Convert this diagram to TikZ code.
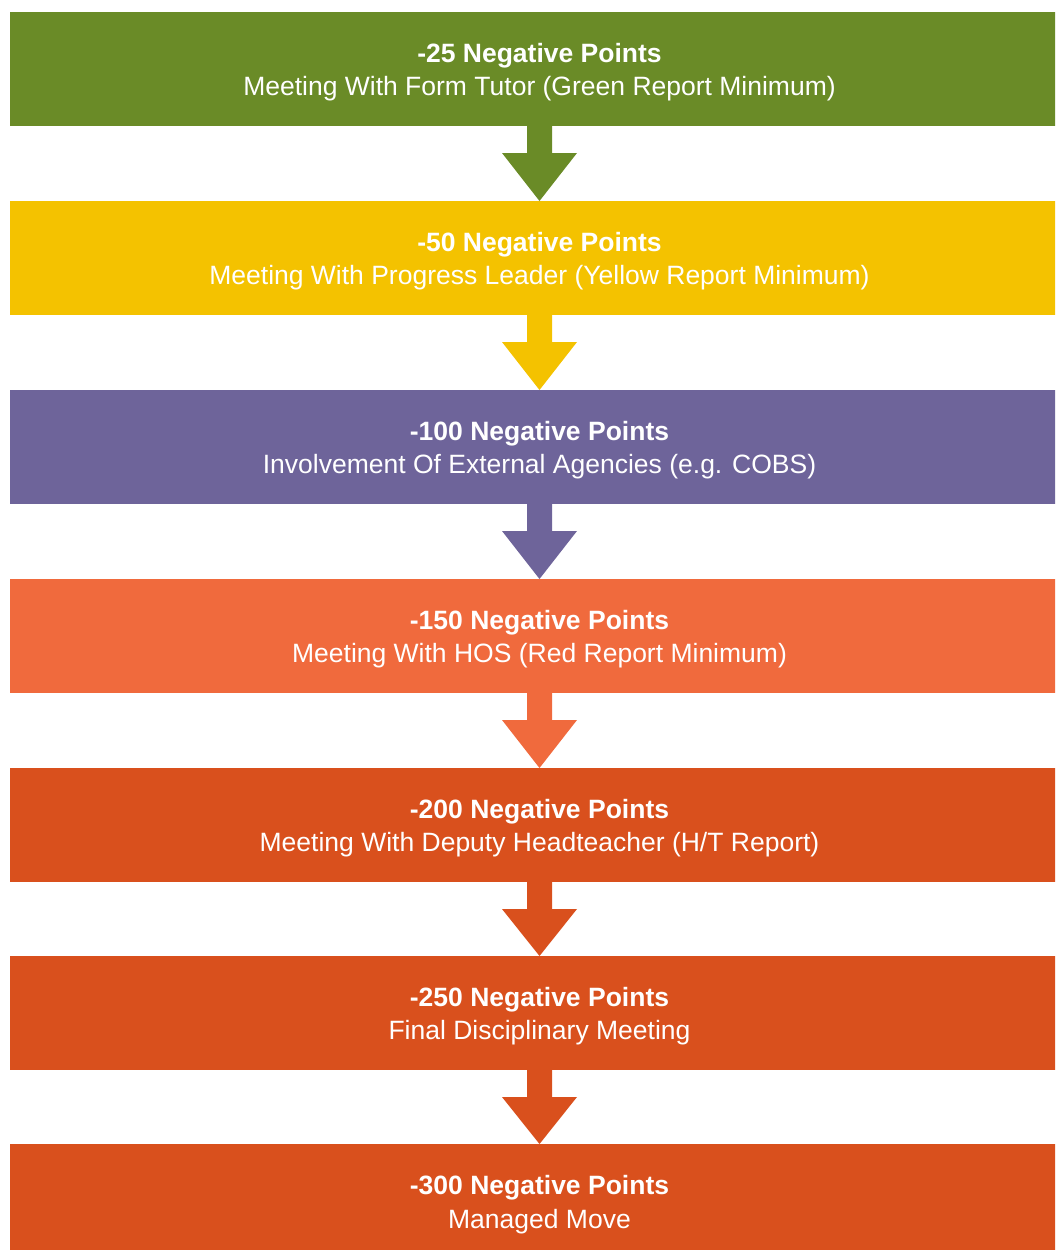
\documentclass[tikz,border=0pt]{standalone}
\usepackage{fontspec}
\setmainfont{Liberation Sans}
\usetikzlibrary{calc}
\definecolor{cgreen}{RGB}{106,139,39}
\definecolor{cyellow}{RGB}{244,194,0}
\definecolor{cpurple}{RGB}{110,100,154}
\definecolor{corange}{RGB}{240,106,61}
\definecolor{cdark}{RGB}{217,80,29}
\newcommand\steparrow[3]{%
  \fill[#3] ($(#1.south)+(-12.5,0)$) -- ($(#1.south)+(-12.5,27)$) -- ($(#1.south)+(-37.5,27)$)
    -- (#2.north) -- ($(#1.south)+(37.5,27)$) -- ($(#1.south)+(12.5,27)$) -- ($(#1.south)+(12.5,0)$) -- cycle;}
\begin{document}
\begin{tikzpicture}[x=1pt,y=-1pt,
  stagebox/.style={rectangle, minimum width=1059pt, minimum height=114pt, inner sep=0pt, outer sep=0pt, anchor=north west},
  ttl/.style={anchor=base, text=white, inner sep=0pt, font=\fontsize{26.5}{30}\selectfont\bfseries},
  sub/.style={anchor=base, text=white, inner sep=0pt, font=\fontsize{26.5}{30}\selectfont}]
\useasboundingbox (0,0) rectangle (1055,1250);
\clip (0,0) rectangle (1055,1250);
\node[stagebox, fill=cgreen]  (b1) at (10,12) {};
\node[stagebox, fill=cyellow] (b2) at (10,201) {};
\node[stagebox, fill=cpurple] (b3) at (10,390) {};
\node[stagebox, fill=corange] (b4) at (10,579) {};
\node[stagebox, fill=cdark]   (b5) at (10,768) {};
\node[stagebox, fill=cdark]   (b6) at (10,956) {};
\node[stagebox, fill=cdark]   (b7) at (10,1144) {};
\steparrow{b1}{b2}{cgreen}
\steparrow{b2}{b3}{cyellow}
\steparrow{b3}{b4}{cpurple}
\steparrow{b4}{b5}{corange}
\steparrow{b5}{b6}{cdark}
\steparrow{b6}{b7}{cdark}
\node[ttl] (t1) at ($(b1.north)+(0,50)$) {-25 Negative Points};
\node[sub] (s1) at ($(b1.north)+(0,83.5)$) {Meeting With Form Tutor (Green Report Minimum)};
\node[ttl] (t2) at ($(b2.north)+(0,50)$) {-50 Negative Points};
\node[sub] (s2) at ($(b2.north)+(0,83.5)$) {Meeting With Progress Leader (Yellow Report Minimum)};
\node[ttl] (t3) at ($(b3.north)+(0,50)$) {-100 Negative Points};
\node[sub] (s3) at ($(b3.north)+(0,83.5)$) {Involvement Of External Agencies (e.g. COBS)};
\node[ttl] (t4) at ($(b4.north)+(0,50)$) {-150 Negative Points};
\node[sub] (s4) at ($(b4.north)+(0,83.5)$) {Meeting With HOS (Red Report Minimum)};
\node[ttl] (t5) at ($(b5.north)+(0,50)$) {-200 Negative Points};
\node[sub] (s5) at ($(b5.north)+(0,83.5)$) {Meeting With Deputy Headteacher (H/T Report)};
\node[ttl] (t6) at ($(b6.north)+(0,50)$) {-250 Negative Points};
\node[sub] (s6) at ($(b6.north)+(0,83.5)$) {Final Disciplinary Meeting};
\node[ttl] (t7) at ($(b7.north)+(0,50.5)$) {-300 Negative Points};
\node[sub] (s7) at ($(b7.north)+(0,84)$) {Managed Move};
\end{tikzpicture}
\end{document}
